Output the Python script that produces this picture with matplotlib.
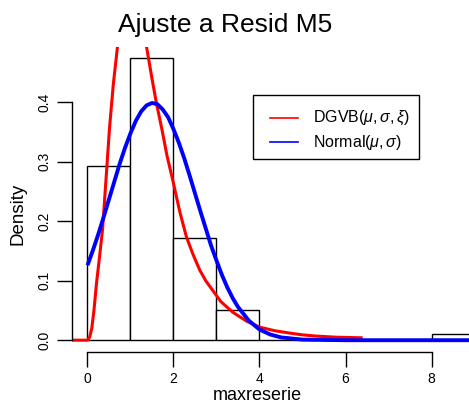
import matplotlib
matplotlib.use('Agg')
import matplotlib.pyplot as plt
from matplotlib.patches import Rectangle
from matplotlib.lines import Line2D

plt.rcParams['font.family'] = ['Liberation Sans', 'DejaVu Sans']
plt.rcParams['mathtext.fontset'] = 'custom'
plt.rcParams['mathtext.rm'] = 'Liberation Sans'
plt.rcParams['mathtext.it'] = 'Liberation Sans:italic'

# Histogram of maxreserie (density per unit bin)
bin_edges = [0, 1, 2, 3, 4, 5, 6, 7, 8, 9]
hist_density = [0.293, 0.475, 0.172, 0.051, 0.0, 0.0, 0.0, 0.0, 0.010]

# Fitted GEV density
gev_x = [-0.36, 0.0, 0.05, 0.1, 0.15, 0.21, 0.28, 0.35, 0.44, 0.51, 0.6, 0.7,
         0.8, 0.9, 1.0, 1.1, 1.2, 1.3, 1.37, 1.5, 1.6, 1.73, 1.85, 1.98, 2.15,
         2.3, 2.45, 2.61, 2.75, 2.91, 3.1, 3.38, 3.7, 4.0, 4.35, 4.7, 5.0,
         5.3, 5.8, 6.4]
gev_y = [0.0, 0.0, 0.005, 0.02, 0.05, 0.096, 0.14, 0.186, 0.28, 0.355, 0.43,
         0.495, 0.55, 0.59, 0.60, 0.59, 0.56, 0.52, 0.495, 0.44, 0.40, 0.355,
         0.31, 0.27, 0.215, 0.174, 0.145, 0.118, 0.10, 0.084, 0.065, 0.047,
         0.032, 0.022, 0.016, 0.012, 0.009, 0.007, 0.005, 0.004]

# Fitted normal density
norm_x = [0.0, 0.125, 0.25, 0.375, 0.5, 0.625, 0.75, 0.875, 1.0, 1.125, 1.25,
          1.375, 1.5, 1.625, 1.75, 1.875, 2.0, 2.125, 2.25, 2.375, 2.5, 2.625,
          2.75, 2.875, 3.0, 3.125, 3.25, 3.375, 3.5, 3.75, 4.0, 4.25, 4.5,
          5.0, 6.0, 9.4]
norm_y = [0.126, 0.151, 0.178, 0.207, 0.237, 0.267, 0.297, 0.324, 0.348,
          0.369, 0.385, 0.395, 0.399, 0.397, 0.388, 0.375, 0.355, 0.332,
          0.306, 0.277, 0.247, 0.217, 0.188, 0.159, 0.134, 0.110, 0.089,
          0.071, 0.056, 0.033, 0.018, 0.0096, 0.0047, 0.001, 0.0, 0.0]

x_ticks = [0, 2, 4, 6, 8]
y_ticks = [0.0, 0.1, 0.2, 0.3, 0.4]
y_ticklabels = ['0.0', '0.1', '0.2', '0.3', '0.4']

W, H = 469, 407
fig = plt.figure(figsize=(W / 100, H / 100), dpi=100)

# plot region (pixels): left 72, right ~490 (cut off), top 46.5, bottom 351.5
ax = fig.add_axes([72 / W, (H - 351.5) / H, (490 - 72) / W, (351.5 - 46.5) / H])
ax.set_xlim(-0.36, 9.36)
ax.set_ylim(-0.019, 0.494)

ax.bar(bin_edges[:-1], hist_density, width=1, align='edge',
       facecolor='white', edgecolor='black', linewidth=1.0)
ax.plot(gev_x, gev_y, color='#ff0000', lw=2.2, solid_capstyle='butt')
ax.plot(norm_x, norm_y, color='#0000ff', lw=2.8, solid_capstyle='butt')

for s in ['top', 'right']:
    ax.spines[s].set_visible(False)
ax.spines['left'].set_bounds(0, 0.4)
ax.spines['bottom'].set_bounds(0, 8)
ax.spines['left'].set_linewidth(1.0)
ax.spines['bottom'].set_linewidth(1.0)

ax.set_xticks(x_ticks)
ax.set_yticks(y_ticks)
ax.set_yticklabels(y_ticklabels)
ax.tick_params(axis='both', direction='out', length=11, width=1.0,
               labelsize=10, pad=4)
ax.tick_params(axis='y', labelrotation=90)
for lab in ax.get_yticklabels():
    lab.set_va('center')

fig.text(225 / W, 1 - 25 / H, 'Ajuste a Resid M5', ha='center', va='center',
         fontsize=19)
fig.text(257 / W, 1 - 396 / H, 'maxreserie', ha='center', va='center',
         fontsize=13)
fig.text(18 / W, 1 - 214 / H, 'Density', ha='center', va='center',
         fontsize=13.5, rotation=90)

# legend box
fig.patches.append(Rectangle((253 / W, 1 - 159 / H), 166 / W, 64 / H,
                             transform=fig.transFigure, facecolor='white',
                             edgecolor='black', linewidth=1.0))
leg_rows = [(118, '#ff0000', r'DGVB$(\mu,\sigma,\xi)$'),
            (142, '#0000ff', r'Normal$(\mu,\sigma)$')]
for yy, col, txt in leg_rows:
    fig.lines.append(Line2D([270 / W, 298 / W], [1 - yy / H, 1 - yy / H],
                            transform=fig.transFigure, color=col, lw=1.2))
    fig.text(313 / W, 1 - yy / H, txt, ha='left', va='center', fontsize=11.5)

fig.savefig('out.png', dpi=100)
